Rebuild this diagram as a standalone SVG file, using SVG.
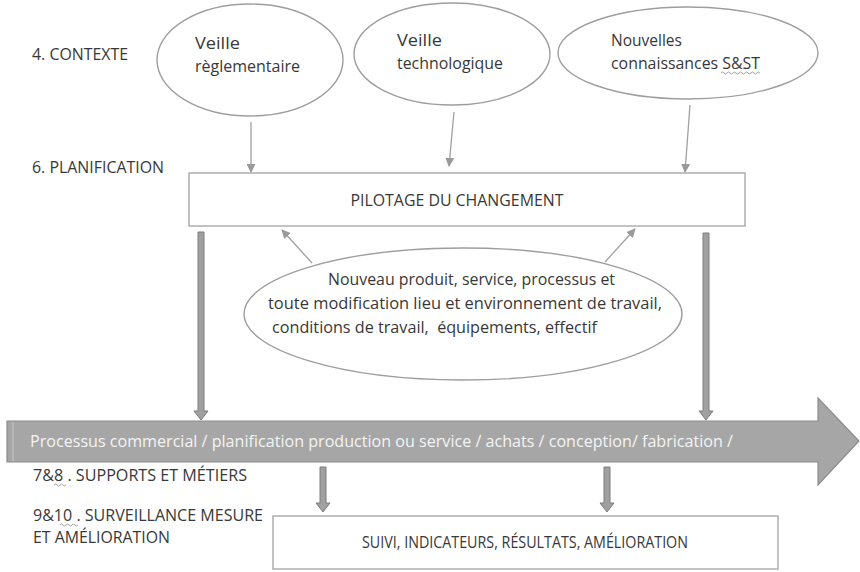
<svg xmlns="http://www.w3.org/2000/svg" width="860" height="572" viewBox="0 0 860 572">
  <defs>
    <marker id="tip" viewBox="0 0 10 10" refX="9" refY="5" markerWidth="9" markerHeight="9" markerUnits="userSpaceOnUse" orient="auto">
      <path d="M0,0 L10,5 L0,10 z" fill="#9a9a9a"/>
    </marker>
    <style>
      .lbl { font-family: "Open Sans", "Liberation Sans", sans-serif; font-size: 17px; fill: #383838; }
      .side { font-family: "Open Sans", "Liberation Sans", sans-serif; font-size: 16.5px; fill: #383838; }
      .oval { fill: #ffffff; stroke: #9e9e9e; stroke-width: 1.4; }
      .box { fill: #ffffff; stroke: #a8a8a8; stroke-width: 1.4; }
      .thin { stroke: #a0a0a0; stroke-width: 1.3; fill: none; marker-end: url(#tip); }
      .thick { fill: #a0a0a0; stroke: #7d7d7d; stroke-width: 1; }
      .squiggle { fill: none; stroke: #8a8a8a; stroke-width: 0.8; }
    </style>
  </defs>

  <rect width="860" height="572" fill="#ffffff"/>

  <!-- side labels -->
  <g id="side-labels">
    <text class="side" x="32" y="60" textLength="96" lengthAdjust="spacingAndGlyphs">4. CONTEXTE</text>
    <text class="side" x="32" y="173" textLength="132" lengthAdjust="spacingAndGlyphs">6. PLANIFICATION</text>
    <text class="side" x="33" y="481" textLength="214" lengthAdjust="spacingAndGlyphs">7&amp;8 . SUPPORTS ET MÉTIERS</text>
    <text class="side" x="33" y="521" textLength="230" lengthAdjust="spacingAndGlyphs">9&amp;10 . SURVEILLANCE MESURE</text>
    <text class="side" x="33" y="543" textLength="137" lengthAdjust="spacingAndGlyphs">ET AMÉLIORATION</text>
    <path class="squiggle" d="M54,485 q1.5,-2 3,0 t3,0 t3,0 t3,0"/>
    <path class="squiggle" d="M60,525 q1.5,-2 3,0 t3,0 t3,0 t3,0 t3,0 t3,0"/>
  </g>

  <!-- context inputs -->
  <g id="veille-reglementaire">
    <ellipse class="oval" cx="250" cy="60" rx="93" ry="56"/>
    <text class="lbl" x="195" y="49" textLength="45" lengthAdjust="spacingAndGlyphs">Veille</text>
    <text class="lbl" x="195" y="72" textLength="105" lengthAdjust="spacingAndGlyphs">règlementaire</text>
  </g>

  <g id="veille-technologique">
    <ellipse class="oval" cx="452" cy="54" rx="98" ry="51"/>
    <text class="lbl" x="397" y="46" textLength="45" lengthAdjust="spacingAndGlyphs">Veille</text>
    <text class="lbl" x="397" y="69" textLength="106" lengthAdjust="spacingAndGlyphs">technologique</text>
  </g>

  <g id="nouvelles-connaissances">
    <ellipse class="oval" cx="688" cy="53" rx="130" ry="46"/>
    <text class="lbl" x="611" y="46" textLength="71" lengthAdjust="spacingAndGlyphs">Nouvelles</text>
    <text class="lbl" x="611" y="69" textLength="149" lengthAdjust="spacingAndGlyphs">connaissances S&amp;ST</text>
    <path class="squiggle" d="M721,73 q1.5,-2 3,0 t3,0 t3,0 t3,0 t3,0 t3,0 t3,0 t3,0 t3,0 t3,0 t3,0 t3,0 t3,0"/>
  </g>

  <!-- steering box -->
  <g id="pilotage">
    <rect class="box" x="189" y="173" width="556" height="53"/>
    <text class="lbl" x="457" y="206" text-anchor="middle" font-size="16" textLength="213" lengthAdjust="spacingAndGlyphs">PILOTAGE DU CHANGEMENT</text>
  </g>

  <!-- change triggers -->
  <g id="changements">
    <ellipse class="oval" cx="463" cy="314" rx="219" ry="66"/>
    <text class="lbl" x="328" y="285" textLength="287" lengthAdjust="spacingAndGlyphs">Nouveau produit, service, processus et</text>
    <text class="lbl" x="268" y="309" textLength="394" lengthAdjust="spacingAndGlyphs">toute modification lieu et environnement de travail,</text>
    <text class="lbl" x="272" y="333" textLength="325" lengthAdjust="spacingAndGlyphs" xml:space="preserve">conditions de travail,  équipements, effectif</text>
  </g>

  <!-- operational process band -->
  <g id="processus">
    <polygon points="7,421 818,421 818,398 859,441 818,485 818,462 7,462" fill="#a6a6a6" stroke="#8c8c8c" stroke-width="1.2"/>
    <line x1="13" y1="422" x2="13" y2="461" stroke="#bdbdbd" stroke-width="1.5"/>
    <text x="30" y="447" font-family="Open Sans, Liberation Sans, sans-serif" font-size="17" fill="#f4f4f4" textLength="703" lengthAdjust="spacingAndGlyphs">Processus commercial / planification production ou service / achats / conception/ fabrication /</text>
  </g>

  <!-- monitoring box -->
  <g id="suivi">
    <rect class="box" x="273" y="516" width="505" height="53"/>
    <text class="side" x="525" y="548" text-anchor="middle" textLength="326" lengthAdjust="spacingAndGlyphs">SUIVI, INDICATEURS, RÉSULTATS, AMÉLIORATION</text>
  </g>

  <!-- connectors -->
  <g id="connectors">
    <line class="thin" x1="251" y1="122" x2="251" y2="172"/>
    <line class="thin" x1="454" y1="112" x2="449" y2="166"/>
    <line class="thin" x1="690" y1="105" x2="685" y2="172"/>
    <line class="thin" x1="312" y1="263" x2="282" y2="230"/>
    <line class="thin" x1="605" y1="262" x2="635" y2="229"/>

    <polygon class="thick" points="198,232 204,232 204,411 208,411 201,420 194,411 198,411"/>
    <polygon class="thick" points="703,233 709,233 709,411 713,411 706,420 699,411 703,411"/>
    <polygon class="thick" points="320,467 326,467 326,503 330,503 323,512 316,503 320,503"/>
    <polygon class="thick" points="604,467 610,467 610,503 614,503 607,512 600,503 604,503"/>
  </g>
</svg>
